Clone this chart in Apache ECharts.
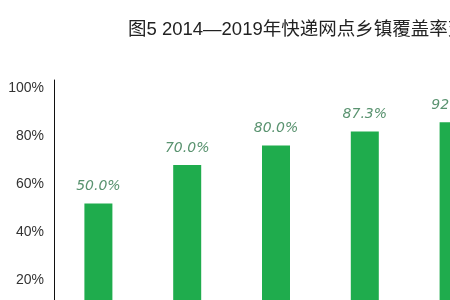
<!DOCTYPE html>
<html>
<head>
<meta charset="utf-8">
<script src="https://cdn.jsdelivr.net/npm/echarts@6/dist/echarts.min.js"></script>
<style>
  html, body { margin: 0; padding: 0; background: #fff; }
  #main { width: 450px; height: 300px; }
</style>
</head>
<body>
<div id="main"></div>
<script>
  // 数据
  var years = ['2014', '2015', '2016', '2017', '2018'];
  var coverage = [50.0, 70.0, 80.0, 87.3, 92.1];
  var yTicks = [20, 40, 60, 80, 100];

  var myChart = echarts.init(document.getElementById('main'));
  myChart.setOption({
    backgroundColor: '#fff',
    animation: false,
    textStyle: { fontFamily: '"Liberation Sans", "Noto Sans CJK SC", sans-serif' },
    title: {
      text: '图5 2014—2019年快递网点乡镇覆盖率变化情况',
      left: 123,
      top: 16,
      textStyle: { fontSize: 18.5, fontWeight: 'normal', color: '#222' }
    },
    // 左侧刻度轴和柱子各用一个 grid（原图两者比例不一致）
    grid: [
      { left: 54, top: 80, bottom: -28, width: 10, outerBoundsMode: 'none', containLabel: false },
      { left: 54, top: 80, bottom: 0, right: -48, outerBoundsMode: 'none', containLabel: false }
    ],
    xAxis: [
      { gridIndex: 0, type: 'category', data: [''], show: false },
      {
        gridIndex: 1, type: 'category', data: years, boundaryGap: true,
        axisLine: { show: false }, axisTick: { show: false }, axisLabel: { show: false }
      }
    ],
    yAxis: [
      {
        gridIndex: 0, type: 'value', min: 0, max: 103.33, interval: 20,
        axisLine: { show: true, lineStyle: { color: '#111', width: 1 } },
        axisTick: { show: false },
        splitLine: { show: false },
        axisLabel: {
          margin: 10, fontSize: 14, color: '#333',
          formatter: function (v) { return yTicks.indexOf(v) >= 0 ? v + '%' : ''; }
        }
      },
      { gridIndex: 1, type: 'value', min: 0, max: 114, show: false, splitLine: { show: false } }
    ],
    series: [
      {
        type: 'bar',
        xAxisIndex: 1,
        yAxisIndex: 1,
        data: coverage,
        barWidth: 28,
        itemStyle: { color: '#1fac4d' },
        label: {
          show: true,
          position: 'top',
          distance: 10,
          fontSize: 14,
          fontStyle: 'italic',
          fontFamily: '"DejaVu Sans", sans-serif',
          color: '#5a9370',
          formatter: function (p) { return p.value.toFixed(1) + '%'; }
        }
      }
    ]
  });
</script>
</body>
</html>
